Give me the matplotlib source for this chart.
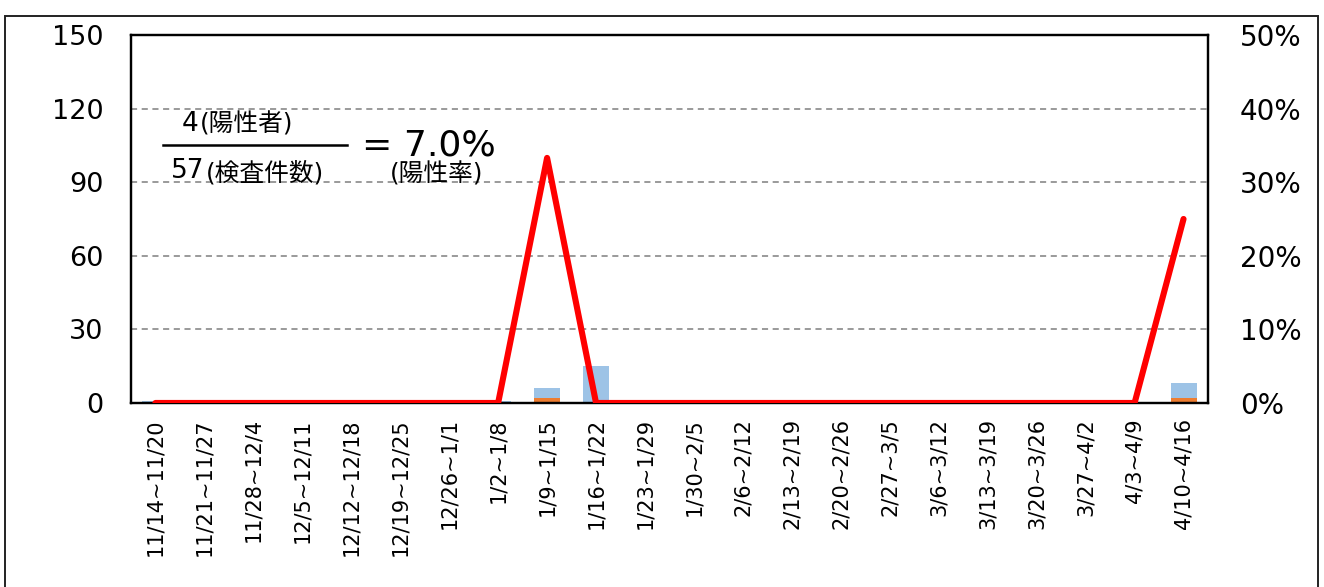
import matplotlib.pyplot as plt
import matplotlib.patches as mpatches
from matplotlib.ticker import FuncFormatter

plt.rcParams['font.family'] = ['DejaVu Sans', 'Noto Sans CJK JP']

weeks = ['11/14~11/20', '11/21~11/27', '11/28~12/4', '12/5~12/11',
         '12/12~12/18', '12/19~12/25', '12/26~1/1', '1/2~1/8',
         '1/9~1/15', '1/16~1/22', '1/23~1/29', '1/30~2/5',
         '2/6~2/12', '2/13~2/19', '2/20~2/26', '2/27~3/5',
         '3/6~3/12', '3/13~3/19', '3/20~3/26', '3/27~4/2',
         '4/3~4/9', '4/10~4/16']
positive = [0, 0, 0, 0, 0, 0, 0, 0, 2, 0, 0,
            0, 0, 0, 0, 0, 0, 0, 0, 0, 0, 2]
negative = [1, 0, 0, 0, 0, 0, 0, 1, 4, 15, 0,
            0, 0, 0, 0, 0, 0, 0, 0, 0, 0, 6]
rate = [0, 0, 0, 0, 0, 0, 0, 0, 33.3, 0, 0,
        0, 0, 0, 0, 0, 0, 0, 0, 0, 0, 25.0]
total_pos = 4
total_tests = 57

fig = plt.figure(figsize=(13.24, 5.87), dpi=100)
ax = fig.add_axes([0.0989, 0.3135, 0.8135, 0.6269])

x = list(range(len(weeks)))
ax.bar(x, positive, width=0.53, color='#ED7D31', zorder=2)
ax.bar(x, negative, width=0.53, bottom=positive, color='#9DC3E6', zorder=2)

ax.set_xlim(-0.5, len(weeks) - 0.5)
ax.set_ylim(0, 150)
ax.set_yticks([0, 30, 60, 90, 120, 150])
ax.yaxis.grid(True, linestyle=(0, (4, 3)), color='#7f7f7f', lw=1.1)
ax.set_axisbelow(True)
ax.set_xticks(x)
ax.set_xticklabels(weeks, rotation=90, fontsize=15)
ax.tick_params(axis='x', length=0, pad=11)
ax.tick_params(axis='y', length=0, pad=20, labelsize=19.5)
for s in ax.spines.values():
    s.set_linewidth(1.6)

ax2 = ax.twinx()
ax2.plot(x, rate, color='#FF0000', lw=4.4, zorder=5,
         solid_capstyle='round')
ax2.set_ylim(0, 50)
ax2.set_yticks([0, 10, 20, 30, 40, 50])
ax2.yaxis.set_major_formatter(FuncFormatter(lambda v, p: f'{v:.0f}%'))
ax2.tick_params(axis='y', length=0, pad=23, labelsize=20)
for s in ax2.spines.values():
    s.set_linewidth(1.6)

# positivity formula in the upper left (axes fraction coordinates)
ax.text(0.0474, 0.757, str(total_pos), fontsize=19,
        transform=ax.transAxes, ha='left', va='center')
ax.text(0.0641, 0.757, '(陽性者)', fontsize=17.8,
        transform=ax.transAxes, ha='left', va='center')
ax.plot([0.0297, 0.2006], [0.701, 0.701], color='black', lw=1.8,
        transform=ax.transAxes)
ax.text(0.0372, 0.630, str(total_tests), fontsize=19,
        transform=ax.transAxes, ha='left', va='center')
ax.text(0.0697, 0.624, '(検査件数)', fontsize=17.8,
        transform=ax.transAxes, ha='left', va='center')
ax.text(0.2145, 0.700, f'= {total_pos / total_tests * 100:.1f}%',
        fontsize=26, transform=ax.transAxes, ha='left', va='center')
ax.text(0.2400, 0.622, '(陽性率)', fontsize=17.8,
        transform=ax.transAxes, ha='left', va='center')

# outer frame around the chart
fig.patches.append(mpatches.Rectangle((5 / 1324, -0.02), 1313 / 1324, 0.9927,
                                      transform=fig.transFigure, fill=False,
                                      edgecolor='#222222', lw=1.4))

fig.savefig('out.png', dpi=100)
